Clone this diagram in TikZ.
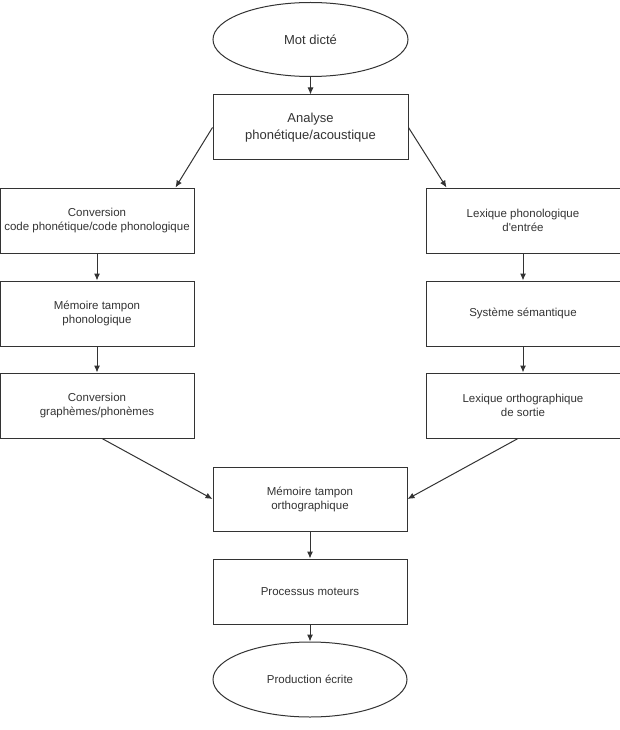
\documentclass[tikz,border=0pt]{standalone}
\usepackage{fontspec}
\setmainfont{Liberation Sans}
\usepackage{tikz}
\usetikzlibrary{shapes.geometric, arrows.meta}
\definecolor{trait}{HTML}{333333}
\tikzset{
    >={Latex[length=7pt, width=6pt]},
    etape/.style={shape=rectangle, draw=trait, line width=1pt, text=trait,
        minimum width=194pt, minimum height=65pt, align=center,
        font=\fontsize{11.5}{14}\selectfont},
    bout/.style={shape=ellipse, draw=trait, line width=1pt, text=trait,
        minimum width=195pt, minimum height=74pt, align=center, inner sep=0pt,
        font=\fontsize{11.5}{14}\selectfont},
    fleche/.style={->, draw=trait, line width=1pt}}

\begin{document}
\begin{tikzpicture}[x=1pt, y=-1pt]

                    \useasboundingbox (0,0) rectangle (620,730);

                    \node[bout, font=\fontsize{13}{16.5}\selectfont] (mot) at (310.5,39.5) {Mot dicté};
                    \node[etape, minimum width=195pt, font=\fontsize{13}{16.5}\selectfont] (analyse) at (310.5,127.5) {Analyse\\phonétique/acoustique};

                    \node[etape] (convcode) at (97,220.5) {Conversion\\code phonétique/code phonologique};
                    \node[etape] (memphono) at (97,313.5) {Mémoire tampon\\phonologique};
                    \node[etape] (convgraph) at (97,405.5) {Conversion\\graphèmes/phonèmes};

                    \node[etape] (lexentree) at (523,220.5) {Lexique phonologique\\d\textquotesingle entrée};
                    \node[etape] (semantique) at (523,313.5) {Système sémantique};
                    \node[etape] (lexsortie) at (523,405.5) {Lexique orthographique\\de sortie};

                    \node[etape, minimum height=64pt] (memortho) at (310,499) {Mémoire tampon\\orthographique};
                    \node[etape] (moteurs) at (310,591.5) {Processus moteurs};
                    \node[bout, minimum width=194pt, minimum height=75pt] (production) at (310,679.5) {Production écrite};

                    \draw[fleche] (mot) -- (analyse);
                    \draw[fleche] (analyse.west) -- ([xshift=-19pt]convcode.north east);
                    \draw[fleche] (analyse.east) -- ([xshift=21pt]lexentree.north west);

                    \draw[fleche] (convcode) -- (memphono);
                    \draw[fleche] (memphono) -- (convgraph);
                    \draw[fleche] (lexentree) -- (semantique);
                    \draw[fleche] (semantique) -- (lexsortie);

                    \draw[fleche] ([xshift=5pt]convgraph.south) -- (memortho.west);
                    \draw[fleche] ([xshift=-5pt]lexsortie.south) -- (memortho.east);
                    \draw[fleche] (memortho) -- (moteurs);
                    \draw[fleche] (moteurs) -- (production);

                \end{tikzpicture}
\end{document}
